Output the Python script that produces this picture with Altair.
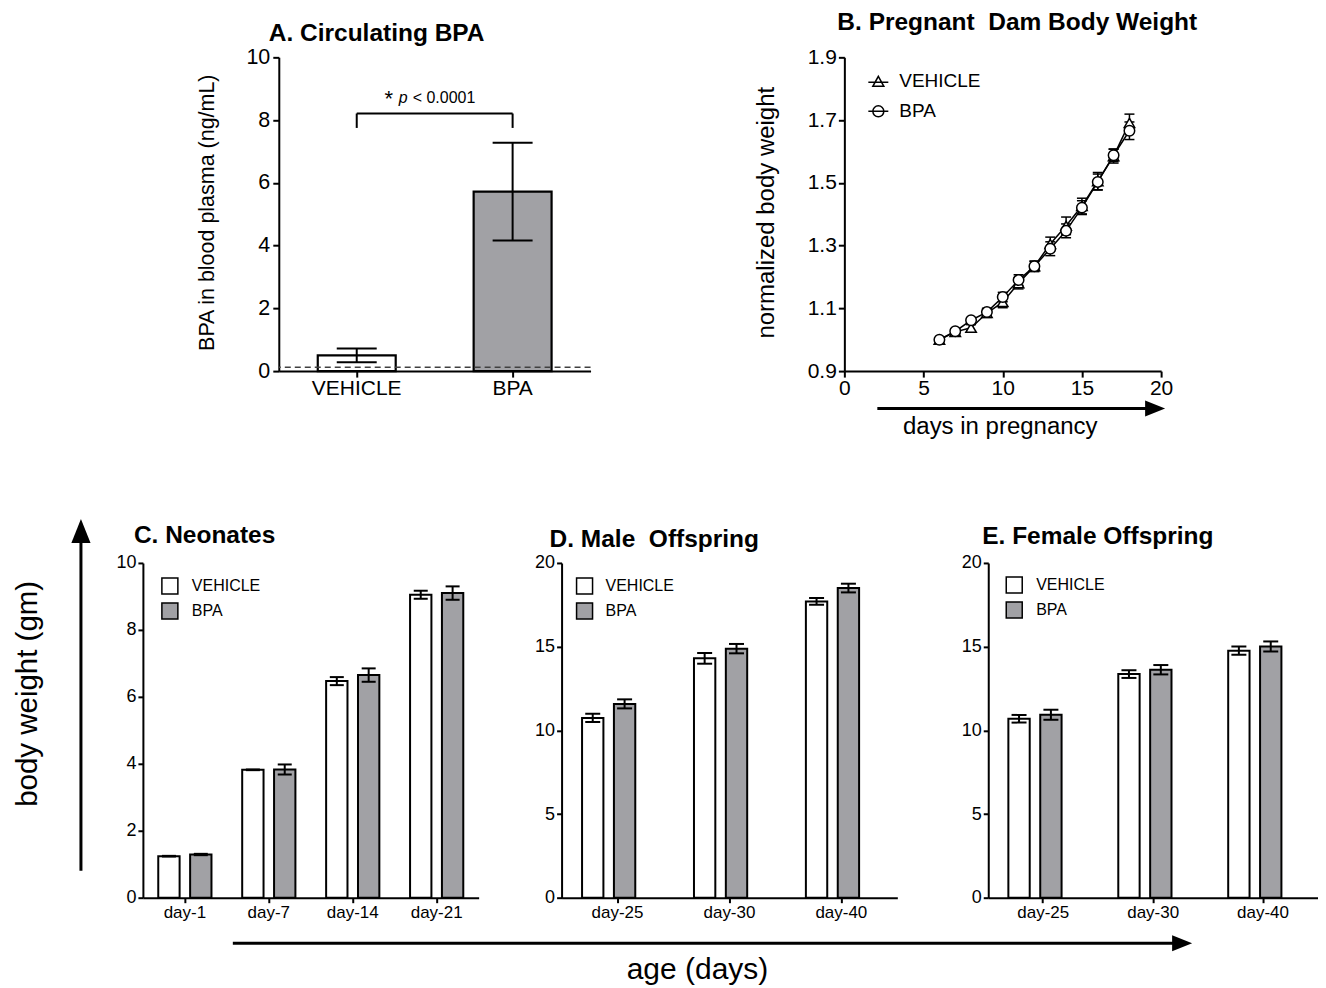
import altair as alt
import pandas as pd

FONT = "Liberation Sans"
GRAY = "#a1a1a5"
GROUPS = ["VEHICLE", "BPA"]

# ---------------- Panel A: circulating BPA ----------------
a_mean = [0.50, 5.72]
a_sem = [0.22, 1.56]
a_lod = 0.12
a_bracket_low, a_bracket_high = 7.75, 8.21
a_yticks = [0, 2, 4, 6, 8, 10]

# ---------------- Panel B: pregnant dam body weight ----------------
b_days = [6, 7, 8, 9, 10, 11, 12, 13, 14, 15, 16, 17, 18]
b_vehicle = [1.000, 1.025, 1.038, 1.085, 1.120, 1.180, 1.234, 1.305, 1.363, 1.426, 1.505, 1.585, 1.691]
b_vehicle_sem = [0.005, 0.010, 0.010, 0.014, 0.018, 0.018, 0.017, 0.022, 0.028, 0.025, 0.028, 0.022, 0.028]
b_bpa = [1.000, 1.027, 1.062, 1.088, 1.136, 1.190, 1.234, 1.290, 1.347, 1.421, 1.503, 1.588, 1.666]
b_bpa_sem = [0.005, 0.008, 0.008, 0.012, 0.015, 0.017, 0.015, 0.022, 0.022, 0.022, 0.025, 0.020, 0.028]
b_xticks = [0, 5, 10, 15, 20]
b_yticks = [0.9, 1.1, 1.3, 1.5, 1.7, 1.9]

# ---------------- Panel C: neonates ----------------
c_days = ["day-1", "day-7", "day-14", "day-21"]
c_vehicle = [1.24, 3.82, 6.47, 9.05]
c_vehicle_sem = [0.01, 0.01, 0.12, 0.12]
c_bpa = [1.29, 3.83, 6.65, 9.10]
c_bpa_sem = [0.02, 0.15, 0.20, 0.20]
c_yticks = [0, 2, 4, 6, 8, 10]

# ---------------- Panel D: male offspring ----------------
d_days = ["day-25", "day-30", "day-40"]
d_vehicle = [10.74, 14.30, 17.70]
d_vehicle_sem = [0.25, 0.32, 0.20]
d_bpa = [11.58, 14.88, 18.50]
d_bpa_sem = [0.27, 0.28, 0.26]

# ---------------- Panel E: female offspring ----------------
e_days = ["day-25", "day-30", "day-40"]
e_vehicle = [10.69, 13.36, 14.76]
e_vehicle_sem = [0.23, 0.23, 0.25]
e_bpa = [10.93, 13.62, 15.01]
e_bpa_sem = [0.30, 0.28, 0.30]
de_yticks = [0, 5, 10, 15, 20]

HEAD_RIGHT = "M1,0L-1,0.8L-1,-0.8Z"
HEAD_UP = "M0,-1L0.8,1L-0.8,1Z"
TRI_LEG = "M-1,0.1L1,0.1M0,-0.5L0.55,0.5L-0.55,0.5Z"
CIRC_LEG = "M-1,0L1,0M0.55,0A0.55,0.55,0,1,1,-0.55,0A0.55,0.55,0,1,1,0.55,0Z"
TITLE_SIZE = 24.5

axis_common = dict(domainColor="black", domainWidth=2, tickColor="black", tickWidth=2,
                   labelColor="black", labelFont=FONT, titleFont=FONT, titleColor="black",
                   titleFontWeight="normal", grid=False)


def long_table(cats, key, veh, veh_sem, bpa, bpa_sem):
    rows = []
    for grp, means, sems in (("VEHICLE", veh, veh_sem), ("BPA", bpa, bpa_sem)):
        for c, m, s in zip(cats, means, sems):
            rows.append({key: c, "group": grp, "mean": m, "lo": m - s, "hi": m + s})
    return pd.DataFrame(rows)


def text_layer(txt, x, y, size, weight="normal", align="left", baseline="alphabetic",
               angle=0, style="normal"):
    mk = dict(font=FONT, fontSize=size, fontWeight=weight, align=align,
              baseline=baseline, color="black", fontStyle=style)
    if angle:
        mk["angle"] = angle
    return alt.Chart(pd.DataFrame({"t": [txt]})).mark_text(**mk).encode(
        text="t:N", x=alt.value(x), y=alt.value(y))


def h_arrow(x0, tip, y, head=20):
    d = pd.DataFrame({"a": [0]})
    line = alt.Chart(d).mark_rule(color="black", strokeWidth=3).encode(
        x=alt.value(x0), x2=alt.value(tip - head + 2), y=alt.value(y))
    hd = alt.Chart(d).mark_point(shape=HEAD_RIGHT, filled=True, color="black", opacity=1,
                                 size=head * head).encode(
        x=alt.value(tip - head / 2), y=alt.value(y))
    return [line, hd]


def v_arrow(x, y0, tip, head=24):
    d = pd.DataFrame({"a": [0]})
    line = alt.Chart(d).mark_rule(color="black", strokeWidth=3).encode(
        x=alt.value(x), y=alt.value(tip + head - 2), y2=alt.value(y0))
    hd = alt.Chart(d).mark_point(shape=HEAD_UP, filled=True, color="black", opacity=1,
                                 size=head * head).encode(
        x=alt.value(x), y=alt.value(tip + head / 2))
    return [line, hd]


def spacer(w, h=1):
    return alt.Chart(pd.DataFrame({"s": [""]})).mark_text().encode(text="s:N").properties(
        width=w, height=h)


# ======================= Panel A =======================
dfa = pd.DataFrame({"group": GROUPS, "mean": a_mean,
                    "lo": [m - s for m, s in zip(a_mean, a_sem)],
                    "hi": [m + s for m, s in zip(a_mean, a_sem)]})
xA = alt.X("group:N", scale=alt.Scale(domain=GROUPS, paddingInner=0.5, paddingOuter=0.25),
           axis=alt.Axis(title=None, labelAngle=0, labelFontSize=21, tickSize=6,
                         labelPadding=0, bandPosition=0.5, **axis_common))


def yA(field):
    return alt.Y(field, scale=alt.Scale(domain=[0, 10], nice=False),
                 axis=alt.Axis(values=a_yticks, labelFontSize=21.5, tickSize=6, labelPadding=3,
                               title="BPA in blood plasma (ng/mL)", titleFontSize=21.5,
                               titleAngle=270, titleX=-71, titleY=155,
                               titleBaseline="middle", titleAlign="center", **axis_common))


barsA = alt.Chart(dfa).mark_bar(stroke="black", strokeWidth=2.2).encode(
    x=xA, y=yA("mean:Q"),
    fill=alt.Fill("group:N", scale=alt.Scale(domain=GROUPS, range=["white", GRAY]), legend=None))
lodA = alt.Chart(pd.DataFrame({"lod": [a_lod]})).mark_rule(
    color="#404040", strokeWidth=1.5, strokeDash=[6, 4]).encode(y=yA("lod:Q"))
errA = alt.Chart(dfa).mark_rule(color="black", strokeWidth=2).encode(x=xA, y=yA("lo:Q"), y2="hi:Q")
capHiA = alt.Chart(dfa).mark_tick(orient="horizontal", size=40, thickness=2, color="black",
                                  opacity=1).encode(x=xA, y=yA("hi:Q"))
capLoA = alt.Chart(dfa).mark_tick(orient="horizontal", size=40, thickness=2, color="black",
                                  opacity=1).encode(x=xA, y=yA("lo:Q"))
bracketH = alt.Chart(pd.DataFrame({"b": [a_bracket_high]})).mark_rule(
    color="black", strokeWidth=2).encode(x=alt.value(78), x2=alt.value(234), y=yA("b:Q"))
bracketLegs = alt.Chart(dfa).mark_rule(color="black", strokeWidth=2).encode(
    x=xA, y=alt.datum(a_bracket_low), y2=alt.datum(a_bracket_high))

panelA = alt.layer(
    barsA, lodA, errA, capHiA, capLoA, bracketH, bracketLegs,
    text_layer("*", 110, 49, 22, align="center"),
    text_layer("p", 120, 46, 16, style="italic"),
    text_layer("< 0.0001", 134, 46, 16),
    text_layer("A. Circulating BPA", -10, -16, TITLE_SIZE, weight="bold"),
).properties(width=312, height=314)

# ======================= Panel B =======================
dfb = long_table(b_days, "day", b_vehicle, b_vehicle_sem, b_bpa, b_bpa_sem)
xB = alt.X("day:Q", scale=alt.Scale(domain=[0, 20], nice=False),
           axis=alt.Axis(values=b_xticks, title=None, labelFontSize=21, tickSize=6,
                         labelPadding=0, labelFlush=False, **axis_common))


def yB(field):
    return alt.Y(field, scale=alt.Scale(domain=[0.9, 1.9], nice=False, zero=False),
                 axis=alt.Axis(values=b_yticks, format=".1f", labelFontSize=21, tickSize=6,
                               labelPadding=2, title="normalized body weight", titleFontSize=24,
                               titleAngle=270, titleX=-78, titleY=155, titleBaseline="middle",
                               titleAlign="center", **axis_common))


lineB = alt.Chart(dfb).mark_line(color="black", strokeWidth=1.5).encode(
    x=xB, y=yB("mean:Q"), detail="group:N")
errB = alt.Chart(dfb).mark_rule(color="black", strokeWidth=1.5).encode(
    x=xB, y=yB("lo:Q"), y2="hi:Q")
capHiB = alt.Chart(dfb).mark_tick(orient="horizontal", size=10, thickness=1.5, color="black",
                                  opacity=1).encode(x=xB, y=yB("hi:Q"))
capLoB = alt.Chart(dfb).mark_tick(orient="horizontal", size=10, thickness=1.5, color="black",
                                  opacity=1).encode(x=xB, y=yB("lo:Q"))
pointsB = alt.Chart(dfb).mark_point(filled=True, fill="white", stroke="black", strokeWidth=1.5,
                                    size=110, opacity=1).encode(
    x=xB, y=yB("mean:Q"),
    shape=alt.Shape("group:N", scale=alt.Scale(domain=GROUPS, range=["triangle-up", "circle"]),
                    legend=None))
legendB = alt.Chart(dfb).transform_filter("false").mark_point(
    filled=False, color="black", strokeWidth=1.5, size=400, opacity=1).encode(
    x=xB, y=yB("mean:Q"),
    shape=alt.Shape("group:N", scale=alt.Scale(domain=GROUPS, range=[TRI_LEG, CIRC_LEG]),
                    legend=alt.Legend(title=None, orient="none", legendX=23, legendY=13,
                                      labelFontSize=19, labelFont=FONT, labelColor="black",
                                      labelOffset=10, rowPadding=9, padding=0, symbolSize=400,
                                      symbolStrokeWidth=1.5, symbolStrokeColor="black",
                                      symbolFillColor="white", symbolOpacity=1)))

panelB = alt.layer(
    lineB, errB, capHiB, capLoB, pointsB, legendB,
    *h_arrow(33, 321, 351.5),
    text_layer("days in pregnancy", 156, 377, 24, align="center"),
    text_layer("B. Pregnant\u00a0 Dam Body Weight", -7, -27, TITLE_SIZE, weight="bold"),
).resolve_scale(shape="independent").properties(width=317, height=314)


# ======================= Panels C, D, E =======================
def bar_panel(cats, veh, veh_sem, bpa, bpa_sem, width, height, ymax, yticks, cap,
              legx, legy, loff, title, tx, ty, extra=()):
    df = long_table(cats, "day", veh, veh_sem, bpa, bpa_sem)
    x = alt.X("day:N", scale=alt.Scale(domain=cats, paddingInner=0.366, paddingOuter=0.183),
              axis=alt.Axis(title=None, labelAngle=0, labelFontSize=17, tickSize=5,
                            labelPadding=2, bandPosition=0.5, **axis_common))
    xo = alt.XOffset("group:N", scale=alt.Scale(domain=GROUPS, paddingInner=0.33,
                                                paddingOuter=0))

    def y(field):
        return alt.Y(field, scale=alt.Scale(domain=[0, ymax], nice=False),
                     axis=alt.Axis(values=yticks, title=None, labelFontSize=18, tickSize=5,
                                   labelPadding=2, **axis_common))

    bars = alt.Chart(df).mark_bar(stroke="black", strokeWidth=2).encode(
        x=x, xOffset=xo, y=y("mean:Q"),
        fill=alt.Fill("group:N", scale=alt.Scale(domain=GROUPS, range=["white", GRAY]),
                      legend=alt.Legend(title=None, orient="none", legendX=legx, legendY=legy,
                                        symbolType="square", symbolSize=256,
                                        symbolStrokeColor="black", symbolStrokeWidth=1.5,
                                        symbolOpacity=1, labelFontSize=16, labelFont=FONT,
                                        labelColor="black", labelOffset=loff, rowPadding=3,
                                        padding=0)))
    err = alt.Chart(df).mark_rule(color="black", strokeWidth=2).encode(
        x=x, xOffset=xo, y=y("lo:Q"), y2="hi:Q")
    capHi = alt.Chart(df).mark_tick(orient="horizontal", size=cap, thickness=2, color="black",
                                    opacity=1).encode(x=x, xOffset=xo, y=y("hi:Q"))
    capLo = alt.Chart(df).mark_tick(orient="horizontal", size=cap, thickness=2, color="black",
                                    opacity=1).encode(x=x, xOffset=xo, y=y("lo:Q"))
    return alt.layer(bars, err, capHi, capLo,
                     text_layer(title, tx, ty, TITLE_SIZE, weight="bold"),
                     *extra).properties(width=width, height=height)


extraC = [
    *v_arrow(-62, 308, -44),
    text_layer("body weight (gm)", -115, 131, 29.5, align="center", baseline="middle",
               angle=270),
    *h_arrow(90, 1050, 380.5),
    text_layer("age (days)", 555, 416, 30, align="center"),
]

panelC = bar_panel(c_days, c_vehicle, c_vehicle_sem, c_bpa, c_bpa_sem, 336, 335, 10, c_yticks,
                   14, 18, 14, 13, "C. Neonates", -9, -20, extraC)
panelD = bar_panel(d_days, d_vehicle, d_vehicle_sem, d_bpa, d_bpa_sem, 336, 335, 20,
                   de_yticks, 15, 14, 14, 12, "D. Male\u00a0 Offspring", -12, -16)
panelE = bar_panel(e_days, e_vehicle, e_vehicle_sem, e_bpa, e_bpa_sem, 330, 335, 20,
                   de_yticks, 15, 17, 13, 13, "E. Female Offspring", -6, -19)

row1 = alt.hconcat(spacer(136), panelA, spacer(254), panelB, spacing=0,
                   bounds="flush").resolve_scale(fill="independent")
row2 = alt.hconcat(panelC, spacer(83), panelD, spacer(91), panelE, spacing=0,
                   bounds="flush").resolve_scale(fill="independent")

# nested rows count with zero height in a flush layout, so the spacing is the full row offset
chart = alt.vconcat(row1, row2, spacing=506, bounds="flush").resolve_scale(
    fill="independent", shape="independent"
).properties(
    padding={"left": 5, "top": 2, "right": 0, "bottom": 0}
).configure(font=FONT).configure_view(stroke=None)

chart.save("out.html", embed_options={"renderer": "svg", "actions": False})
